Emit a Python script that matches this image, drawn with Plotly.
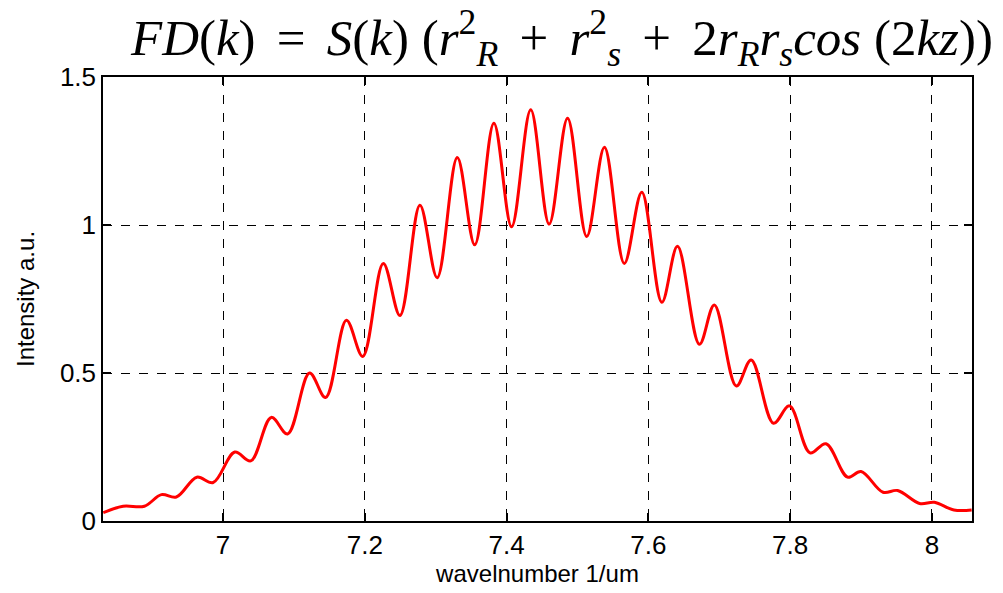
import plotly.graph_objects as go

# Peaks / troughs of the interference spectrum
k_values = [6.831, 6.859, 6.889, 6.913, 6.934, 6.963, 6.986, 7.0165, 7.039, 7.068,
            7.091, 7.122, 7.1446, 7.174, 7.197, 7.226, 7.2495, 7.2777, 7.302, 7.3304,
            7.355, 7.382, 7.407, 7.434, 7.460, 7.486, 7.513, 7.538, 7.566, 7.5907,
            7.619, 7.641, 7.672, 7.693, 7.724, 7.745, 7.7765, 7.799, 7.828, 7.8505,
            7.881, 7.900, 7.931, 7.9516, 7.9826, 8.0034, 8.031, 8.056]
intensity = [0.028, 0.050, 0.050, 0.089, 0.081, 0.148, 0.130, 0.233, 0.203, 0.350,
             0.294, 0.500, 0.417, 0.678, 0.556, 0.870, 0.694, 1.067, 0.822, 1.228,
             0.933, 1.344, 0.994, 1.389, 1.003, 1.361, 0.961, 1.263, 0.870, 1.111,
             0.739, 0.928, 0.597, 0.730, 0.456, 0.544, 0.330, 0.389, 0.230, 0.261,
             0.148, 0.167, 0.097, 0.103, 0.059, 0.063, 0.037, 0.037]

x_ticks = [7, 7.2, 7.4, 7.6, 7.8, 8]
x_tick_labels = ["7", "7.2", "7.4", "7.6", "7.8", "8"]
y_ticks = [0, 0.5, 1, 1.5]
y_tick_labels = ["0", "0.5", "1", "1.5"]

sp = "&nbsp;"
spo = "&nbsp;&#8198;"
title_text = ("<i>FD</i>(<i>k</i>)" + spo + "=" + spo + "<i>S</i>(<i>k</i>)" + sp + "(<i>r</i><sup>2</sup><sub><i>R</i></sub>" + spo + "+" + spo +
              "<i>r</i><sup>2</sup><sub><i>s</i></sub>" + spo + "+" + spo + "2<i>r</i><sub><i>R</i></sub><i>r</i><sub><i>s</i></sub>"
              "<i>cos</i>" + sp + "(2<i>kz</i>))")

SANS = "Liberation Sans, Arial, sans-serif"

fig = go.Figure()
fig.add_trace(go.Scatter(x=k_values, y=intensity, mode="lines",
                         line=dict(color="#ff0000", width=3, shape="spline", smoothing=1.0),
                         showlegend=False, hoverinfo="skip"))

axis_common = dict(showline=True, linecolor="black", linewidth=1.5, mirror="ticks",
                   ticks="inside", ticklen=8, tickcolor="black", tickwidth=1.5,
                   showgrid=True, gridcolor="black", griddash="dash", gridwidth=1,
                   zeroline=False,
                   tickfont=dict(family=SANS, size=26, color="black"))

fig.update_xaxes(range=[6.8306, 8.0565], tickvals=x_ticks, ticktext=x_tick_labels,
                 title=dict(text="wavelnumber 1/um", standoff=4,
                            font=dict(family=SANS, size=24, color="black")),
                 **axis_common)
fig.update_yaxes(range=[0, 1.5], tickvals=y_ticks, ticktext=y_tick_labels,
                 title=dict(text="Intensity a.u.", standoff=18,
                            font=dict(family=SANS, size=24, color="black")),
                 **axis_common)

fig.add_annotation(text=title_text, xref="paper", yref="paper", x=0.528, y=1.0,
                   xanchor="center", yanchor="bottom", yshift=1, showarrow=False,
                   font=dict(family="Liberation Serif, DejaVu Serif, serif", size=51, color="black"))

fig.update_layout(width=1003, height=593, margin=dict(l=103, r=31, t=77, b=68),
                  paper_bgcolor="white", plot_bgcolor="white")

fig.write_html("out.html")
